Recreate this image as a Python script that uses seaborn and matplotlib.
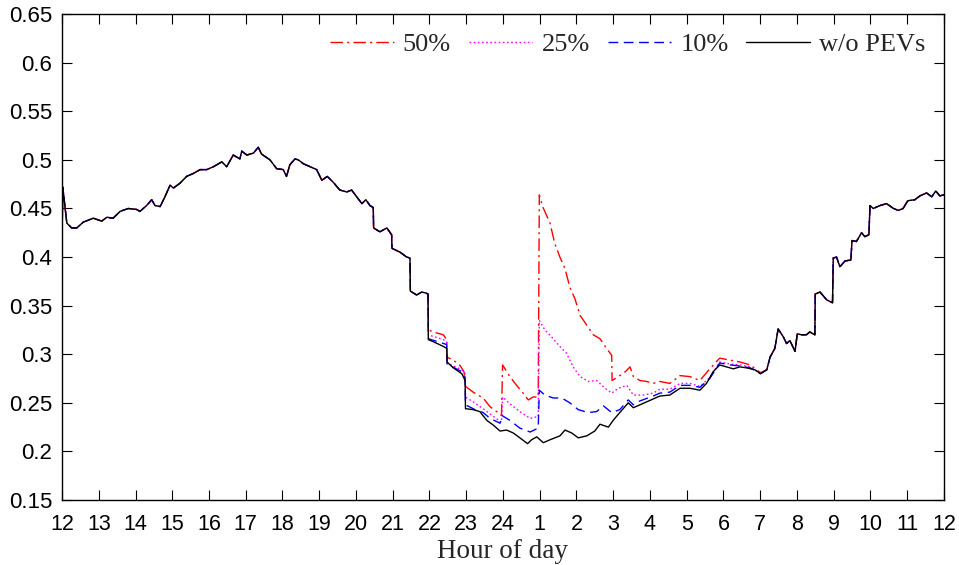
import matplotlib
matplotlib.use("Agg")
import matplotlib.pyplot as plt
import seaborn as sns
import pandas as pd

# ---- data (hours after noon, normalized load) ----
hours_base = [0.00, 0.02, 0.05, 0.13, 0.26, 0.40, 0.58, 0.85, 1.08, 1.22, 1.39, 1.58, 1.80, 2.03, 2.12,
              2.30, 2.44, 2.53, 2.67, 2.80, 2.94, 3.03, 3.21, 3.39, 3.57, 3.76, 3.94, 4.12, 4.35, 4.48,
              4.66, 4.84, 4.89, 5.03, 5.21, 5.34, 5.43, 5.66, 5.84, 6.02, 6.11, 6.20, 6.34, 6.43, 6.57,
              6.75, 6.93, 7.07, 7.22, 7.38, 7.56, 7.75, 7.88, 8.02, 8.16, 8.27, 8.38, 8.47, 8.48, 8.65,
              8.84, 8.97, 8.98, 9.20, 9.38, 9.47, 9.48, 9.65, 9.79, 9.90, 9.96, 9.97, 10.10, 10.38, 10.47,
              10.48, 10.65, 10.88, 10.97, 10.98, 11.19, 11.37, 11.56, 11.74, 11.92, 12.10, 12.28, 12.46,
              12.67, 12.78, 12.92, 13.10, 13.28, 13.55, 13.69, 13.87, 14.05, 14.28, 14.50, 14.64, 14.87,
              15.00, 15.18, 15.41, 15.55, 15.73, 15.91, 16.09, 16.27, 16.54, 16.82, 17.09, 17.36, 17.54,
              17.72, 17.90, 18.09, 18.27, 18.45, 18.63, 18.86, 19.01, 19.18, 19.27, 19.40, 19.49, 19.63,
              19.72, 19.81, 19.95, 20.01, 20.13, 20.26, 20.35, 20.49, 20.50, 20.63, 20.81, 20.97, 20.99,
              21.08, 21.17, 21.31, 21.47, 21.50, 21.62, 21.76, 21.85, 21.96, 21.99, 22.08, 22.26, 22.44,
              22.63, 22.76, 22.89, 23.02, 23.21, 23.35, 23.53, 23.67, 23.78, 23.89, 24.00]
load_base = [0.418, 0.472, 0.462, 0.435, 0.430, 0.430, 0.436, 0.440, 0.437, 0.441, 0.440, 0.447, 0.450, 0.449, 0.447,
             0.453, 0.459, 0.453, 0.452, 0.462, 0.474, 0.471, 0.476, 0.483, 0.486, 0.490, 0.490, 0.493, 0.498, 0.493,
             0.505, 0.501, 0.509, 0.505, 0.507, 0.513, 0.506, 0.500, 0.491, 0.490, 0.483, 0.495, 0.501, 0.500, 0.496,
             0.493, 0.490, 0.479, 0.483, 0.477, 0.469, 0.467, 0.469, 0.462, 0.455, 0.459, 0.453, 0.451, 0.430, 0.426,
             0.430, 0.423, 0.409, 0.405, 0.400, 0.399, 0.365, 0.361, 0.364, 0.363, 0.362, 0.315, 0.313, 0.308, 0.306,
             0.292, 0.286, 0.280, 0.273, 0.244, 0.243, 0.241, 0.232, 0.227, 0.221, 0.222, 0.219, 0.214,
             0.208, 0.212, 0.215, 0.209, 0.212, 0.216, 0.222, 0.219, 0.214, 0.216, 0.221, 0.228, 0.225,
             0.232, 0.240, 0.250, 0.245, 0.248, 0.251, 0.254, 0.257, 0.258, 0.265, 0.265, 0.263, 0.270,
             0.282, 0.289, 0.287, 0.285, 0.287, 0.286, 0.284, 0.280, 0.284, 0.297, 0.306, 0.326, 0.318,
             0.311, 0.314, 0.303, 0.321, 0.320, 0.320, 0.323, 0.320, 0.362, 0.364, 0.356, 0.353, 0.399,
             0.400, 0.390, 0.396, 0.397, 0.417, 0.416, 0.425, 0.421, 0.423, 0.453, 0.450, 0.453, 0.455,
             0.450, 0.448, 0.450, 0.458, 0.459, 0.463, 0.466, 0.462, 0.468, 0.463, 0.464]

hours_50 = [9.97, 10.10, 10.38, 10.47, 10.48, 10.65, 10.84, 10.94, 10.98, 11.19, 11.46, 11.65, 11.83, 11.96,
            11.99, 12.19, 12.37, 12.55, 12.69, 12.82, 12.96, 12.99, 13.08, 13.28, 13.41, 13.55, 13.69, 13.82,
            13.96, 14.10, 14.28, 14.46, 14.64, 14.82, 14.96, 14.97, 15.14, 15.33, 15.46, 15.55, 15.73, 15.91,
            16.09, 16.27, 16.54, 16.82, 17.09, 17.36, 17.63, 17.90, 18.18, 18.45, 18.73, 19.01]
load_50 = [0.325, 0.323, 0.320, 0.315, 0.297, 0.294, 0.288, 0.282, 0.267, 0.261, 0.255, 0.246, 0.241, 0.237,
           0.289, 0.277, 0.268, 0.260, 0.253, 0.256, 0.256, 0.464, 0.452, 0.435, 0.414, 0.400, 0.388, 0.369,
           0.357, 0.340, 0.330, 0.320, 0.316, 0.306, 0.299, 0.273, 0.277, 0.282, 0.287, 0.277, 0.273, 0.272,
           0.270, 0.272, 0.270, 0.278, 0.277, 0.273, 0.285, 0.296, 0.294, 0.292, 0.289, 0.281]

hours_25 = [9.97, 10.38, 10.47, 10.48, 10.88, 10.97, 10.98, 11.19, 11.46, 11.74, 11.96, 11.99, 12.19, 12.46,
            12.74, 12.96, 12.99, 13.14, 13.32, 13.55, 13.73, 13.91, 14.10, 14.32, 14.55, 14.78, 14.96, 15.14,
            15.37, 15.55, 15.82, 16.09, 16.27, 16.54, 16.82, 17.09, 17.36, 17.63, 17.90, 18.18, 18.45, 18.73, 19.01]
load_25 = [0.320, 0.315, 0.313, 0.291, 0.284, 0.280, 0.256, 0.251, 0.244, 0.236, 0.230, 0.256, 0.249, 0.241,
           0.234, 0.236, 0.335, 0.325, 0.318, 0.308, 0.301, 0.287, 0.277, 0.272, 0.273, 0.265, 0.260, 0.265,
           0.268, 0.258, 0.258, 0.260, 0.264, 0.264, 0.270, 0.270, 0.267, 0.276, 0.292, 0.290, 0.289, 0.287, 0.280]

hours_10 = [9.97, 10.47, 10.48, 10.88, 10.97, 10.98, 11.24, 11.46, 11.65, 11.92, 11.97, 12.19, 12.46, 12.74,
            12.96, 12.99, 13.14, 13.37, 13.60, 13.82, 14.05, 14.32, 14.55, 14.73, 14.96, 15.18, 15.41, 15.55,
            15.73, 16.09, 16.27, 16.54, 16.82, 17.09, 17.36, 17.63, 17.90, 18.18, 18.45, 18.73, 19.01]
load_10 = [0.316, 0.310, 0.290, 0.282, 0.276, 0.248, 0.243, 0.240, 0.234, 0.229, 0.237, 0.232, 0.224, 0.220,
           0.224, 0.263, 0.258, 0.255, 0.255, 0.250, 0.243, 0.240, 0.241, 0.247, 0.240, 0.243, 0.253, 0.248,
           0.252, 0.257, 0.260, 0.261, 0.268, 0.268, 0.266, 0.275, 0.291, 0.289, 0.288, 0.286, 0.280]

series_names = ["50%", "25%", "10%", "w/o PEVs"]
x_tick_labels = [str(h) for h in list(range(12, 25)) + list(range(1, 13))]


def with_base(h, v):
    """Scenario equals the base load outside its own window."""
    hh = [x for x in hours_base if x < h[0]] + list(h) + [x for x in hours_base if x > h[-1]]
    vv = ([y for x, y in zip(hours_base, load_base) if x < h[0]] + list(v)
          + [y for x, y in zip(hours_base, load_base) if x > h[-1]])
    return hh, vv


frames = []
for name, (h, v) in zip(series_names, [with_base(hours_50, load_50), with_base(hours_25, load_25),
                                       with_base(hours_10, load_10), (hours_base, load_base)]):
    frames.append(pd.DataFrame({"hour": h, "load": v, "series": name}))

sns.set_style("ticks")
plt.rcParams["font.family"] = ["Liberation Sans", "DejaVu Sans"]

fig = plt.figure(figsize=(9.59, 5.65), dpi=100)
ax = fig.add_axes([0.0647, 0.115, 0.9195, 0.86])

styles = {
    "50%": dict(color="#ff0000", linestyle=(0, (9, 3, 1.5, 3))),
    "25%": dict(color="#ff00ff", linestyle=(0, (1.2, 1.8))),
    "10%": dict(color="#0000ff", linestyle=(0, (7, 4))),
    "w/o PEVs": dict(color="#000000", linestyle="-"),
}
for df in frames:
    name = df["series"].iloc[0]
    sns.lineplot(data=df, x="hour", y="load", estimator=None, sort=False, ax=ax,
                 linewidth=1.0, label=name, **styles[name])

ax.set_xlim(0, 24)
ax.set_ylim(0.15, 0.65)
ax.set_xticks(range(25))
ax.set_xticklabels(x_tick_labels, fontsize=15.5)
yt = [0.15 + 0.05 * i for i in range(11)]
ax.set_yticks(yt)
ax.set_yticklabels(["%g" % round(t, 2) for t in yt], fontsize=16)
ax.tick_params(direction="in", top=True, right=True, length=7, width=0.8, colors="black")
ax.tick_params(axis="x", pad=10)
ax.tick_params(axis="y", pad=7)
for s in ax.spines.values():
    s.set_visible(True)
    s.set_linewidth(1.0)
    s.set_color("black")

ax.set_ylabel("")
ax.set_xlabel("Hour of day", fontfamily="Liberation Serif", fontsize=19.5, labelpad=3)

leg = ax.legend(loc="upper right", ncol=4, frameon=False, bbox_to_anchor=(1.0, 1.0),
                prop={"family": "Liberation Serif", "size": 19}, handlelength=2.4,
                columnspacing=0.68, handletextpad=0.35, borderaxespad=0.3)

fig.savefig("out.png", dpi=100)
